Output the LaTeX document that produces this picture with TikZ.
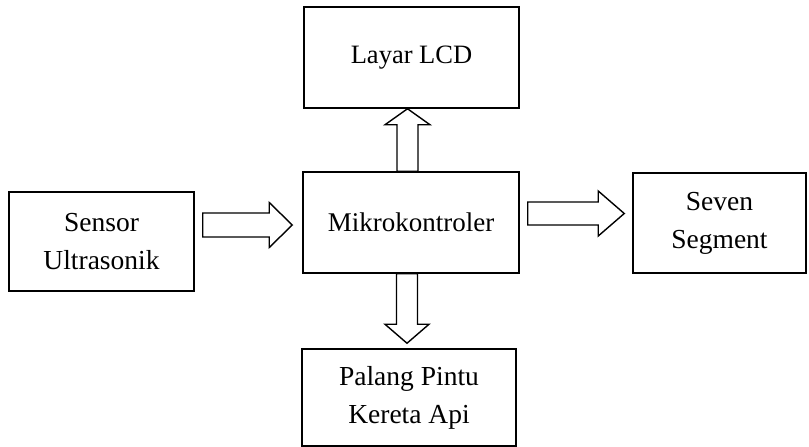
\documentclass[tikz,border=0pt]{standalone}
\usepackage{fontspec}
\setmainfont{Liberation Serif}
\usetikzlibrary{calc}
\tikzset{
  box/.style={draw, line width=1.5pt, inner sep=0pt, align=center,
    font=\fontsize{27.5}{38}\selectfont},
  blk/.style={draw, line width=1.4pt, line join=miter, fill=white}
}
% #1 start, #2 tip, #3 shaft half width, #4 head half width, #5 head length
\newcommand{\blockarrow}[5]{%
  \draw[blk] ($(#1)!#3!90:(#2)$) -- ($($(#2)!#5!(#1)$)!#3!90:(#2)$)
    -- ($($(#2)!#5!(#1)$)!#4!90:(#2)$) -- (#2)
    -- ($($(#2)!#5!(#1)$)!#4!-90:(#2)$) -- ($($(#2)!#5!(#1)$)!#3!-90:(#2)$)
    -- ($(#1)!#3!-90:(#2)$) -- cycle;}
\begin{document}
\begin{tikzpicture}[x=1pt,y=-1pt]
\useasboundingbox (0,0) rectangle (809,447);
\node[box, minimum width=215pt, minimum height=101pt, font=\fontsize{26.5}{36}\selectfont] (lcd) at (411.5,57.5) {Layar LCD};
\node[box, minimum width=216pt, minimum height=101pt, font=\fontsize{27}{36}\selectfont] (mik) at (411,222.5) {Mikrokontroler};
\node[box, minimum width=185pt, minimum height=99pt] (sen) at (101.5,241.5) {Sensor\\Ultrasonik};
\node[box, minimum width=173pt, minimum height=100pt] (sev) at (719.5,223) {Seven\\Segment};
\node[box, minimum width=214pt, minimum height=97pt] (pal) at (409,397.5) {Palang Pintu\\Kereta Api};
% arrow end points
\coordinate (uS) at ($(mik.north)+(-3.5,0)$);
\coordinate (uT) at (uS |- lcd.south);
\coordinate (dS) at ($(mik.south)+(-4,0)$);
\coordinate (dT) at ($(dS |- pal.north)+(0,-5)$);
\coordinate (lS) at ($(sen.east |- 0,225)+(8,0)$);
\coordinate (lT) at ($(mik.west |- 0,225)+(-10,0)$);
\coordinate (rS) at ($(mik.east |- 0,213.5)+(8,0)$);
\coordinate (rT) at ($(sev.west |- 0,213.5)+(-8,0)$);
\blockarrow{uS}{uT}{10.5pt}{22.5pt}{16pt}
\blockarrow{dS}{dT}{10.5pt}{22pt}{19pt}
\blockarrow{lS}{lT}{12pt}{22.5pt}{23pt}
\blockarrow{rS}{rT}{11.5pt}{22.5pt}{26pt}
\end{tikzpicture}
\end{document}
